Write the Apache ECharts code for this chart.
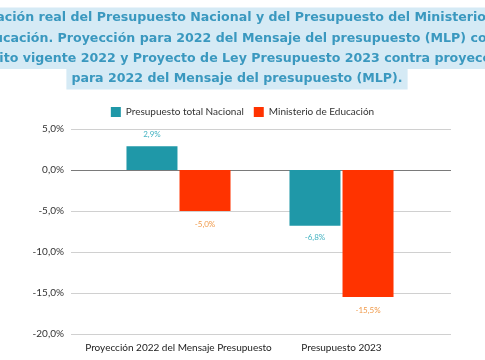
<!DOCTYPE html>
<html><head><meta charset="utf-8">
<script src="https://cdn.jsdelivr.net/npm/echarts@6/dist/echarts.min.js"></script>
<style>html,body{margin:0;padding:0;background:#fff}#c{width:485px;height:360px}</style>
</head><body><div id="c"></div>
<script>
const titleLines = [
  "Variación real del Presupuesto Nacional y del Presupuesto del Ministerio de",
  "Educación. Proyección para 2022 del Mensaje del presupuesto (MLP) con",
  "crédito vigente 2022 y Proyecto de Ley Presupuesto 2023 contra proyección",
  "para 2022 del Mensaje del presupuesto (MLP)."
];
const categories = ["Proyección 2022 del Mensaje Presupuesto", "Presupuesto 2023"];
const seriesNames = ["Presupuesto total Nacional", "Ministerio de Educación"];
const nacional = [2.9, -6.8];
const educacion = [-5.0, -15.5];
const yTicks = [-20, -15, -10, -5, 0, 5];

const chart = echarts.init(document.getElementById('c'), null, {renderer: 'canvas'});
const fmt = v => v.toFixed(1).replace('.', ',') + '%';
const titleX = [238, 236, 240, 237];
const titleFont = 'bold 12.6px "DejaVu Sans"';
const graphic = titleLines.map((t, i) => ({
  type: 'text', x: titleX[i], y: 18 + i * 20.3,
  style: {text: t, textAlign: 'center', textVerticalAlign: 'middle', font: titleFont,
    fill: '#3a98bf', backgroundColor: '#d5eaf5', padding: [4, 5, 4, 5]}
}));
function mkData(arr, color) {
  return arr.map(v => ({value: v, label: {position: v >= 0 ? 'top' : 'bottom', color: color}}));
}
chart.setOption({
  animation: false,
  graphic: graphic,
  legend: {
    data: seriesNames, top: 102, left: 'center', itemWidth: 10, itemHeight: 10, itemGap: 10,
    icon: 'rect', textStyle: {fontSize: 10, color: '#333', fontFamily: 'Lato'}
  },
  grid: [
    {left: 71, right: 34, top: 129, bottom: 26},
    {left: 97, right: 62, top: 129, bottom: 26}
  ],
  xAxis: [
    {gridIndex: 0, type: 'category', data: categories, show: false},
    {gridIndex: 1, type: 'category', data: categories,
      axisLine: {show: false}, axisTick: {show: false},
      axisLabel: {interval: 0, margin: 9, fontSize: 10, color: '#222', fontFamily: 'Lato'}}
  ],
  yAxis: [
    {gridIndex: 0, type: 'value', min: -20, max: 5, interval: 5,
      axisLine: {show: false}, axisTick: {show: false},
      axisLabel: {formatter: v => fmt(v), margin: 7, fontSize: 10, color: '#333', fontFamily: 'Lato'},
      splitLine: {lineStyle: {width: 1, color: yTicks.map(v => v === 0 ? '#7a7a7a' : '#d0d0d0')}}},
    {gridIndex: 1, type: 'value', min: -20, max: 5, interval: 5, show: false, splitLine: {show: false}}
  ],
  series: [
    {name: seriesNames[0], type: 'bar', xAxisIndex: 1, yAxisIndex: 1, barWidth: 51, barGap: '4%',
      itemStyle: {color: '#1f98a8'}, data: mkData(nacional, '#45b3c2'),
      label: {show: true, formatter: p => fmt(p.value), fontSize: 8, distance: 8, fontFamily: 'Lato'}},
    {name: seriesNames[1], type: 'bar', xAxisIndex: 1, yAxisIndex: 1, barWidth: 51,
      itemStyle: {color: '#ff3300'}, data: mkData(educacion, '#f09a4a'),
      label: {show: true, formatter: p => fmt(p.value), fontSize: 8, distance: 9, fontFamily: 'Lato'}}
  ]
});
</script></body></html>
